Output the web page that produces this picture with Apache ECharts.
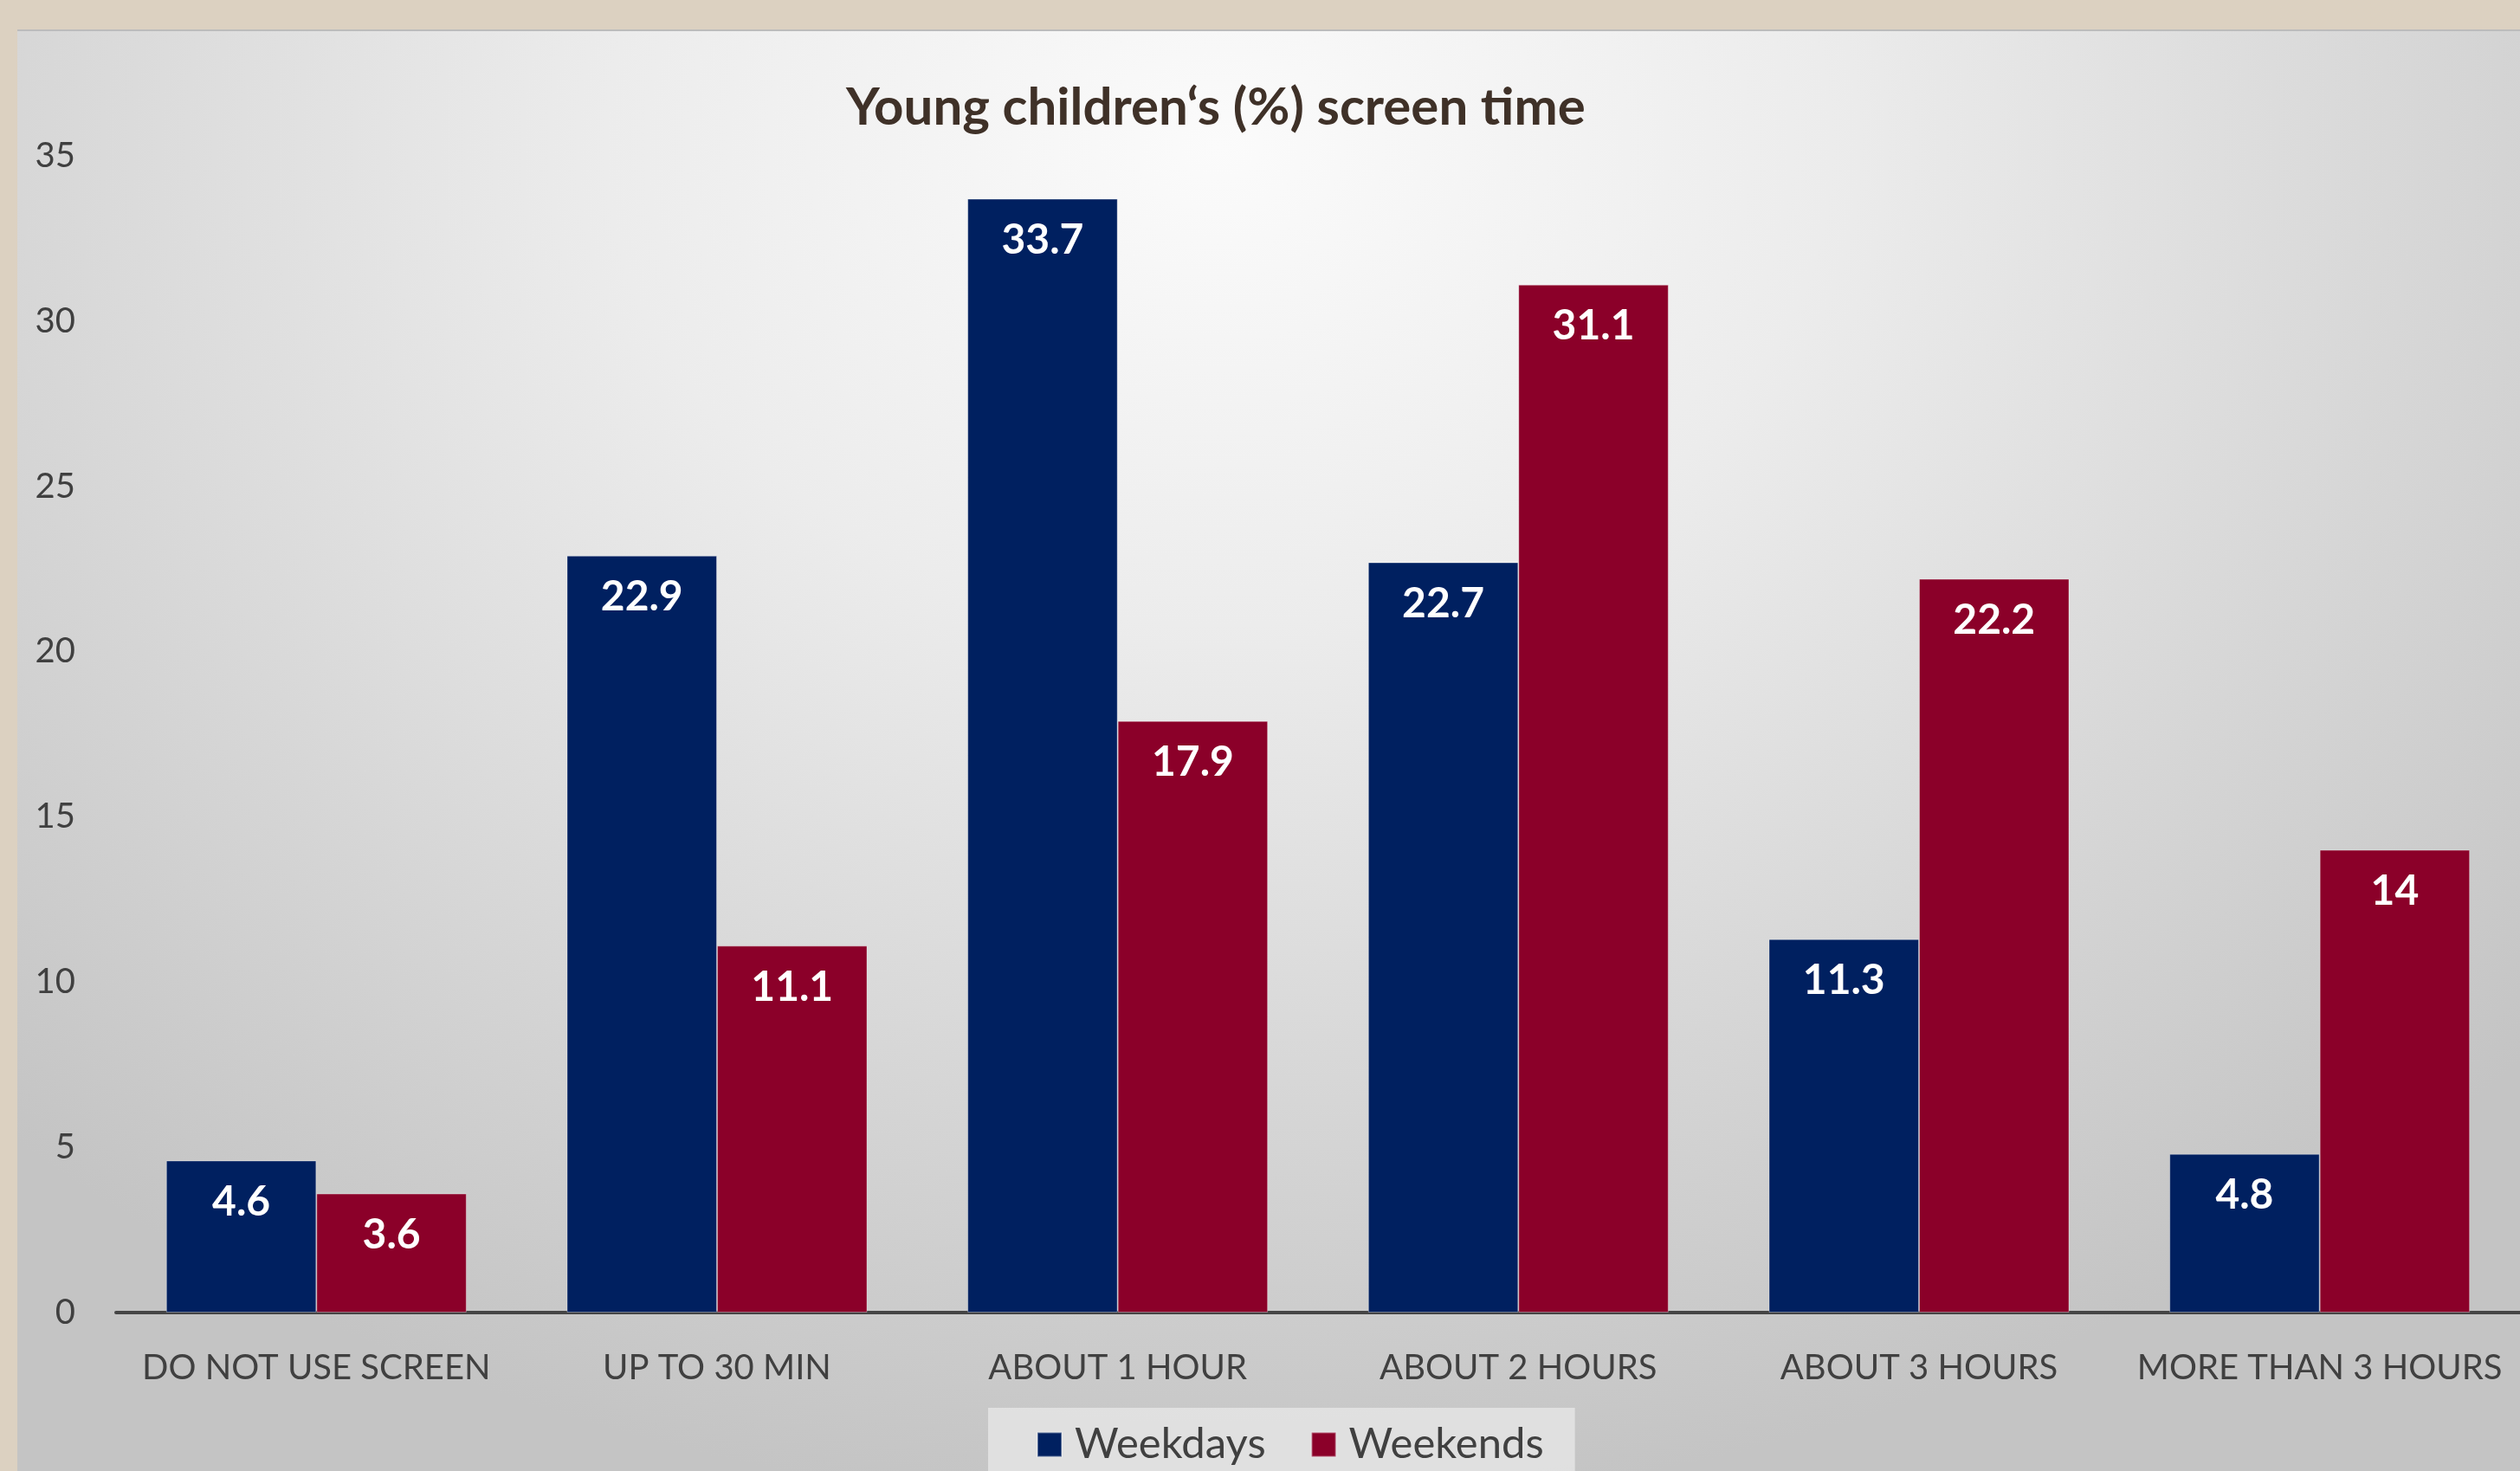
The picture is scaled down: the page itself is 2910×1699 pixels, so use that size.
<!DOCTYPE html>
<html>
<head>
<meta charset="utf-8">
<script src="https://cdn.jsdelivr.net/npm/echarts@6/dist/echarts.min.js"></script>
<style>
  html, body { margin: 0; padding: 0; width: 2910px; height: 1699px; overflow: hidden; background: #DCD1C1; }
  #chart {
    position: absolute; left: 20px; top: 34px; width: 2890px; height: 1665px;
    background: radial-gradient(ellipse 70% 95% at 48% 8%, #fbfbfb 0%, #ececec 35%, #d6d6d6 70%, #c4c4c4 100%);
    border-top: 2px solid #bcbcbc;
    box-sizing: border-box;
  }
</style>
</head>
<body>
<div id="chart"></div>
<script>
const categories = ['DO NOT USE SCREEN', 'UP TO 30 MIN', 'ABOUT 1 HOUR', 'ABOUT 2 HOURS', 'ABOUT 3 HOURS', 'MORE THAN 3 HOURS'];
const weekdays = [4.6, 22.9, 33.7, 22.7, 11.3, 4.8];
const weekends = [3.6, 11.1, 17.9, 31.1, 22.2, 14];
const seriesNames = ['Weekdays', 'Weekends'];
const titleText = 'Young children\u2018s (%) screen time';

const chart = echarts.init(document.getElementById('chart'));
const font = 'Lato, "Open Sans", sans-serif';
const labelStyle = {
  show: true, position: 'insideTop', distance: 24,
  color: '#ffffff', fontWeight: 'bold', fontSize: 48, fontFamily: font
};
chart.setOption({
  animation: false,
  title: {
    text: titleText,
    left: 952, top: 54,
    textStyle: { color: '#3f3128', fontWeight: 'bold', fontSize: 60, fontFamily: font }
  },
  legend: {
    data: seriesNames,
    left: 1121, top: 1590,
    padding: [18, 36, 24, 56],
    backgroundColor: 'rgba(232,232,232,0.75)',
    icon: 'rect', itemWidth: 28, itemHeight: 28, itemGap: 52,
    textStyle: { color: '#404040', fontSize: 49, fontFamily: font, padding: [0, 0, 0, 10] }
  },
  grid: { left: 114, right: 0, top: 144, bottom: 183, containLabel: false },
  xAxis: {
    type: 'category', data: categories,
    axisLine: { lineStyle: { color: '#454545', width: 4 } },
    axisTick: { show: false },
    axisLabel: { color: '#404040', fontSize: 40, fontFamily: font, margin: 44, interval: 0 }
  },
  yAxis: {
    type: 'value', min: 0, max: 35, interval: 5,
    splitLine: { show: false },
    axisLine: { show: false },
    axisLabel: { color: '#404040', fontSize: 40, fontFamily: font, margin: 47 }
  },
  series: [
    { name: seriesNames[0], type: 'bar', data: weekdays, barGap: '0%', barCategoryGap: '25%',
      itemStyle: { color: '#002060', borderColor: 'rgba(255,255,255,0.35)', borderWidth: 1 }, label: labelStyle },
    { name: seriesNames[1], type: 'bar', data: weekends, barGap: '0%', barCategoryGap: '25%',
      itemStyle: { color: '#8B0029', borderColor: 'rgba(255,255,255,0.35)', borderWidth: 1 }, label: labelStyle }
  ]
});
</script>
</body>
</html>
